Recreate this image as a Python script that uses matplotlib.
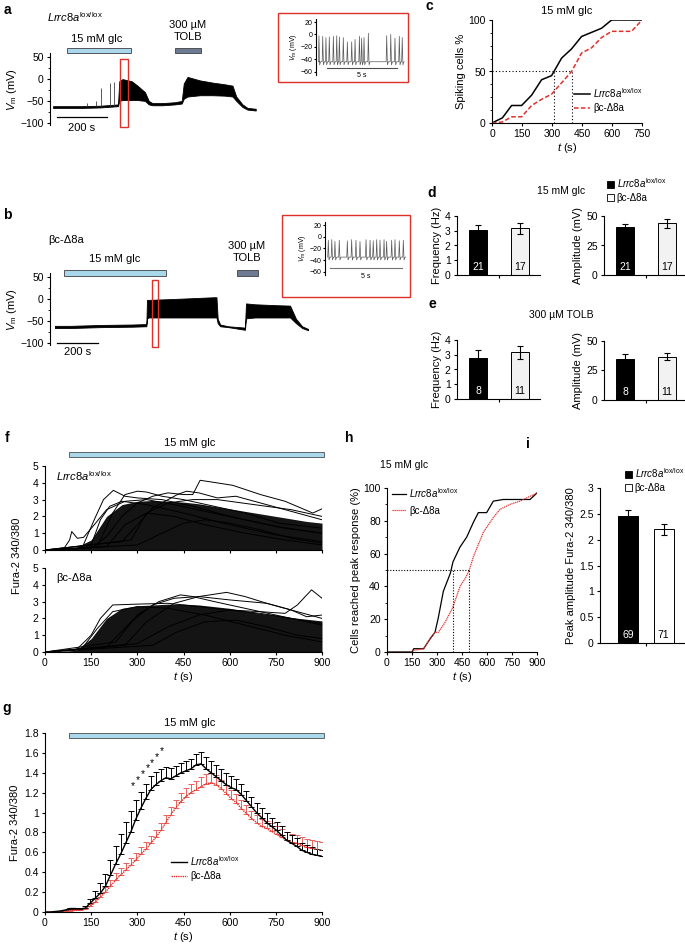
import numpy as np
import matplotlib
matplotlib.use("Agg")
import matplotlib.pyplot as plt
from matplotlib.patches import Rectangle, Patch
from matplotlib.lines import Line2D
from matplotlib.ticker import MultipleLocator, FuncFormatter

plt.rcParams['font.family'] = ['Liberation Sans', 'DejaVu Sans']
plt.rcParams['mathtext.fontset'] = 'custom'
plt.rcParams['mathtext.rm'] = 'Liberation Sans'
plt.rcParams['mathtext.it'] = 'Liberation Sans:italic'
plt.rcParams['axes.linewidth'] = 0.8
plt.rcParams['xtick.major.width'] = 0.8
plt.rcParams['ytick.major.width'] = 0.8
plt.rcParams['xtick.minor.width'] = 0.6
plt.rcParams['ytick.minor.width'] = 0.6
plt.rcParams['xtick.major.size'] = 2.5
plt.rcParams['ytick.major.size'] = 2.5
plt.rcParams['xtick.minor.size'] = 1.5
plt.rcParams['ytick.minor.size'] = 1.5
plt.rcParams['xtick.labelsize'] = 7.5
plt.rcParams['ytick.labelsize'] = 7.5
plt.rcParams['xtick.major.pad'] = 2
plt.rcParams['ytick.major.pad'] = 2

RED = '#e0302a'
GLC = '#a9d8ec'
TOLB_C = '#6c7a94'
LOX = r'$\mathit{Lrrc8a}^{\mathrm{lox/lox}}$'
KO = 'βc-Δ8a'

# === a: membrane potential, Lrrc8a lox/lox (envelope of the trace, s / mV)
a_t = [12, 100, 130, 200, 250, 272, 277, 290, 327, 350, 380, 395, 410, 450, 500,
       527, 535, 550, 600, 650, 700, 730, 745, 770, 790, 823]
a_low = [-66, -66, -66, -65, -63, -62, -50, -48, -48, -48, -50, -58, -60, -60, -58,
         -56, -45, -40, -37, -37, -38, -40, -50, -64, -70, -72]
a_high = [-62, -62, -62, -61, -59, -58, -5, 0, -5, -15, -30, -50, -55, -55, -53,
          -50, -10, 5, -3, -8, -12, -15, -40, -58, -66, -68]
a_spk_t = [150, 185, 205, 240, 258]
a_spk_v = [-55, -50, -21, -10, -6]

# === b: membrane potential, βc-Δ8a
b_t = [24, 100, 244, 400, 470, 473, 480, 600, 700, 800, 812, 818, 830, 870, 951,
       956, 1000, 1100, 1171, 1200, 1230, 1259]
b_low = [-66, -66, -64, -63, -62, -45, -42, -42, -42, -42, -42, -55, -62, -64, -70,
         -44, -42, -42, -42, -55, -66, -71]
b_high = [-61, -61, -59, -58, -57, -2, -2, 0, 2, 4, 4, -45, -58, -62, -65,
          -10, -12, -14, -15, -45, -62, -68]

# === insets: spike times (s) and peaks (mV)
ia_spk_t = [0.21, 0.48, 0.71, 0.95, 1.24, 1.48, 1.67, 1.95, 2.24, 2.55, 2.79, 3.1,
            3.26, 3.43, 3.74, 5.05, 5.34, 5.64, 5.95, 6.16]
ia_spk_v = [-2, -3, -5, -4, -3, -2, -4, -5, -12, -12, -8, -3, -6, -5, 2, -2, 0, -6, -3, -5]
ia_base = -44
ib_spk_t = [0.23, 0.47, 0.69, 0.99, 1.55, 1.85, 2.15, 2.43, 2.85, 3.13, 3.35, 3.59,
            3.82, 4.10, 4.28, 4.63, 4.86, 5.16, 5.44]
ib_spk_v = [-6, -5, -8, -6, -7, -5, -6, -8, -5, -6, -7, -5, -6, -5, -8, -6, -5, -7, -6]
ib_base = -35

# === c: cumulative spiking cells
c_t = [0, 52, 98, 148, 198, 248, 298, 348, 398, 448, 498, 548, 598, 698, 750]
c_wt = [0, 5, 17, 17, 27, 42, 46, 63, 72, 84, 88, 92, 100, 100, 100]
c_ko = [0, 1, 6, 6, 17, 23, 28, 39, 50, 68, 73, 83, 89, 89, 100]

# === d / e: bar charts
d_freq = [3.05, 3.17]
d_freq_err = [0.33, 0.38]
d_amp = [41, 43.8]
d_amp_err = [2.3, 3.7]
d_n = ['21', '17']
e_freq = [2.76, 3.17]
e_freq_err = [0.56, 0.45]
e_amp = [35, 36.5]
e_amp_err = [4.3, 3.0]
e_n = ['8', '11']

# === f: Fura-2 traces (dense envelope + distinct traces)
f_env_top = [0.02, 0.05, 0.15, 0.6, 2.0, 2.7, 2.9, 2.95, 2.9, 2.85, 2.75, 2.6, 2.45,
             2.3, 2.15, 2.0, 1.85, 1.7, 1.6]
f_env_bot = [0.02, 0.03, 0.1, 0.8, 2.0, 2.6, 2.75, 2.8, 2.85, 2.85, 2.8, 2.7, 2.6,
             2.45, 2.3, 2.2, 2.05, 1.95, 1.85]
f_traces_top = [
    ([0, 60, 80, 87, 105, 125, 160, 200, 260, 330, 420, 520, 650, 780, 900],
     [0, 0.05, 0.6, 1.1, 0.7, 0.75, 1.5, 2.4, 2.9, 3.0, 2.7, 2.3, 1.8, 1.3, 1.0]),
    ([0, 120, 160, 190, 222, 260, 300, 380, 480, 600, 750, 900],
     [0, 0.1, 1.8, 3.0, 3.55, 3.2, 3.1, 3.0, 2.6, 2.0, 1.4, 1.0]),
    ([0, 150, 200, 250, 300, 350, 400, 450, 480, 504, 540, 610, 700, 780, 870, 900],
     [0, 0.1, 0.8, 2.0, 2.8, 3.2, 3.4, 3.3, 3.3, 4.15, 4.05, 3.85, 3.3, 2.9, 2.2, 2.45]),
    ([0, 170, 220, 260, 300, 330, 380, 450, 550, 650, 760, 900],
     [0, 0.2, 2.2, 3.3, 3.5, 3.45, 3.2, 3.0, 2.6, 2.2, 1.6, 1.3]),
    ([0, 250, 300, 350, 400, 430, 460, 500, 560, 620, 700, 800, 900],
     [0, 0.5, 1.5, 2.5, 3.0, 3.3, 3.5, 3.4, 3.1, 3.2, 2.8, 2.3, 1.8]),
    ([0, 280, 330, 400, 480, 560, 640, 720, 800, 900],
     [0, 0.6, 2.2, 2.8, 3.0, 3.0, 2.8, 2.6, 2.4, 2.0]),
    ([0, 200, 260, 330, 420, 520, 650, 780, 900],
     [0, 0.2, 1.5, 2.2, 2.0, 1.5, 1.0, 0.6, 0.3]),
    ([0, 150, 180, 210, 250, 330, 450, 600, 750, 900],
     [0, 0.3, 1.8, 2.6, 2.9, 2.7, 2.2, 1.5, 0.9, 0.5]),
    ([0, 300, 380, 450, 520, 600, 700, 800, 900],
     [0, 0.3, 1.0, 1.6, 1.8, 1.6, 1.2, 0.7, 0.4]),
]
f_traces_bot = [
    ([0, 100, 150, 180, 220, 300, 400, 500, 600, 700, 800, 900],
     [0, 0.1, 1.0, 2.0, 2.8, 2.85, 2.9, 2.7, 2.5, 2.3, 2.0, 1.7]),
    ([0, 300, 400, 500, 600, 700, 780, 820, 866, 900],
     [0, 0.5, 1.5, 2.2, 2.5, 2.4, 2.3, 2.8, 3.7, 3.2]),
    ([0, 200, 280, 350, 420, 500, 590, 650, 720, 800, 900],
     [0, 0.3, 1.8, 2.8, 3.2, 3.3, 3.55, 3.3, 2.9, 2.5, 2.0]),
    ([0, 230, 300, 370, 440, 480, 550, 650, 750, 900],
     [0, 0.6, 2.2, 3.0, 3.4, 3.3, 3.0, 2.6, 2.2, 1.6]),
    ([0, 260, 330, 420, 500, 600, 720, 800, 850, 900],
     [0, 0.4, 1.8, 2.9, 3.3, 3.1, 2.9, 2.5, 2.1, 2.2]),
    ([0, 120, 170, 220, 300, 400, 520, 650, 780, 900],
     [0, 0.2, 1.4, 2.4, 2.7, 2.6, 2.2, 1.6, 1.0, 0.6]),
    ([0, 350, 430, 520, 620, 720, 820, 900],
     [0, 0.4, 1.2, 1.8, 1.9, 1.5, 1.0, 0.8]),
]

# === g: mean Fura-2 ratio (56 samples over 0-900 s)
g_wt = [0, 0, 0.005, 0.01, 0.02, 0.035, 0.035, 0.03, 0.04, 0.09, 0.14, 0.19, 0.26,
        0.37, 0.48, 0.58, 0.69, 0.8, 0.93, 1.04, 1.14, 1.23, 1.28, 1.32, 1.35, 1.34,
        1.37, 1.4, 1.42, 1.44, 1.48, 1.49, 1.44, 1.4, 1.36, 1.32, 1.28, 1.25, 1.23,
        1.18, 1.12, 1.06, 1.0, 0.95, 0.9, 0.86, 0.82, 0.77, 0.72, 0.69, 0.66, 0.62,
        0.6, 0.58, 0.57, 0.56]
g_wt_err = [0, 0, 0, 0, 0, 0.01, 0.01, 0.01, 0.02, 0.04, 0.07, 0.1, 0.12, 0.15, 0.18,
            0.2, 0.22, 0.22, 0.2, 0.17, 0.15, 0.14, 0.13, 0.12, 0.11, 0.11, 0.1, 0.1,
            0.1, 0.1, 0.11, 0.12, 0.12, 0.12, 0.12, 0.12, 0.12, 0.12, 0.11, 0.11, 0.1,
            0.1, 0.1, 0.1, 0.1, 0.09, 0.09, 0.09, 0.08, 0.08, 0.08, 0.07, 0.07, 0.07,
            0.06, 0.06]
g_ko = [0, 0, 0, 0.005, 0.01, 0.015, 0.02, 0.02, 0.03, 0.06, 0.1, 0.15, 0.2, 0.26,
        0.32, 0.37, 0.42, 0.47, 0.52, 0.58, 0.63, 0.69, 0.75, 0.82, 0.9, 0.98, 1.05,
        1.11, 1.16, 1.2, 1.23, 1.26, 1.29, 1.3, 1.28, 1.24, 1.19, 1.14, 1.1, 1.04,
        0.99, 0.94, 0.9, 0.86, 0.84, 0.81, 0.78, 0.75, 0.72, 0.7, 0.69, 0.67, 0.65,
        0.64, 0.63, 0.62]
g_ko_err = [0, 0, 0, 0, 0, 0.01, 0.01, 0.01, 0.01, 0.02, 0.03, 0.04, 0.05, 0.06,
            0.07, 0.07, 0.07, 0.07, 0.07, 0.07, 0.07, 0.07, 0.07, 0.08, 0.08, 0.08,
            0.08, 0.09, 0.09, 0.09, 0.09, 0.1, 0.1, 0.1, 0.1, 0.09, 0.09, 0.09, 0.09,
            0.09, 0.09, 0.08, 0.08, 0.08, 0.08, 0.08, 0.08, 0.08, 0.08, 0.08, 0.08,
            0.08, 0.08, 0.08, 0.08, 0.08]
g_star_t = [287, 302, 317, 333, 348, 364, 379]
g_star_y = [1.27, 1.33, 1.39, 1.45, 1.5, 1.56, 1.62]

# === h: cells reached peak response
h_wt_t = [0, 150, 160, 220, 258, 288, 308, 338, 380, 396, 438, 478, 518, 548, 598, 638, 698, 858, 900]
h_wt = [0, 0, 2, 2, 8, 12, 21, 37, 48, 55, 64, 70, 79, 85, 85, 92, 93, 93, 97]
h_ko_t = [0, 150, 160, 220, 258, 288, 308, 348, 394, 438, 470, 494, 518, 578, 638, 678, 738, 798, 900]
h_ko = [0, 0, 1, 2, 8, 12, 12, 18, 27, 40, 45, 50, 58, 73, 82, 87, 90, 92, 97]

# === i: peak amplitude
i_vals = [2.45, 2.2]
i_err = [0.12, 0.11]
i_n = ['69', '71']

W, H = 685, 946
fig = plt.figure(figsize=(W / 100, H / 100), dpi=100)


def add_ax(x0, y0, x1, y1):
    return fig.add_axes([x0 / W, 1 - y1 / H, (x1 - x0) / W, (y1 - y0) / H])


def ftext(x, y, s, **kw):
    kw.setdefault('ha', 'center')
    kw.setdefault('va', 'center')
    kw.setdefault('fontsize', 7.5)
    fig.text(x / W, 1 - y / H, s, **kw)


def fbox(x0, y0, x1, y1, color):
    fig.patches.append(Rectangle((x0 / W, 1 - y1 / H), (x1 - x0) / W, (y1 - y0) / H,
                                 transform=fig.transFigure, fill=False, ec=color, lw=1.0))


def clean(ax, bottom=True):
    ax.spines['top'].set_visible(False)
    ax.spines['right'].set_visible(False)
    if not bottom:
        ax.spines['bottom'].set_visible(False)
        ax.set_xticks([])


def gfmt(ax):
    ax.yaxis.set_major_formatter(FuncFormatter(lambda v, p: f'{v:g}'.replace('-', '\u2212')))


def spike_line(times, peaks, base, t0, t1):
    xs, ys = [t0], [base]
    for t, p in zip(times, peaks):
        xs += [t - 0.04, t, t + 0.05, t + 0.12]
        ys += [base, p, base - 5, base]
    xs.append(t1)
    ys.append(base)
    return xs, ys


# ---------------- panel labels
for lab, x, y in [('a', 7, 10), ('b', 7, 215), ('c', 429, 6), ('d', 432, 193), ('e', 432, 304),
                  ('f', 7, 438), ('g', 7, 708), ('h', 349, 438), ('i', 528, 444)]:
    ftext(x, y, lab, fontsize=10, fontweight='bold')

# ---------------- a
axA = add_ax(50, 52.9, 262, 127.1)
axA.set_xlim(0, 848)
axA.set_ylim(-110, 60)
clean(axA, bottom=False)
axA.spines['left'].set_bounds(-105, 60)
axA.fill_between(a_t, a_low, a_high, color='k', lw=0.6)
axA.vlines(a_spk_t, -62, a_spk_v, color='0.25', lw=0.6)
axA.set_yticks([-100, -50, 0, 50])
axA.yaxis.set_minor_locator(MultipleLocator(25))
gfmt(axA)
axA.add_patch(Rectangle((68, 60.5), 256, 10.5, fc=GLC, ec='0.25', lw=0.6, clip_on=False))
axA.add_patch(Rectangle((500, 60.5), 104, 10.5, fc=TOLB_C, ec='0.25', lw=0.6, clip_on=False))
axA.add_patch(Rectangle((280, -109), 32, 154, fill=False, ec=RED, lw=1.0, clip_on=False))
axA.plot([28, 228], [-87, -87], color='k', lw=0.9, clip_on=False)
axA.text(128, -111, '200 s', ha='center', va='center', fontsize=8)
axA.set_ylabel(r'$V_{\mathrm{m}}$ (mV)', fontsize=8, labelpad=1)
ftext(47, 17, LOX, ha='left', fontsize=8)
ftext(97, 39, '15 mM glc', fontsize=8)
ftext(188, 25, '300 µM', fontsize=8)
ftext(188, 37, 'TOLB', fontsize=8)

# inset a
fbox(278, 13, 408, 82, RED)
axIa = add_ax(316, 18.9, 405, 74.8)
axIa.set_xlim(0, 89 / 14)
axIa.set_ylim(-65, 25)
clean(axIa, bottom=False)
xs, ys = spike_line(ia_spk_t, ia_spk_v, ia_base, 0.25, 6.3)
axIa.plot(xs, ys, color='0.35', lw=0.5)
axIa.set_yticks([-60, -40, -20, 0, 20])
gfmt(axIa)
axIa.tick_params(labelsize=5, length=1.5, pad=1)
axIa.plot([0.79, 5.79], [-54, -54], color='0.3', lw=0.8)
axIa.text(3.29, -66, '5 s', ha='center', va='center', fontsize=5)
axIa.set_ylabel(r'$V_{\mathrm{m}}$ (mV)', fontsize=5, labelpad=1)

# ---------------- b
axB = add_ax(50, 272.6, 312, 347.4)
axB.set_xlim(0, 262 / 0.205)
axB.set_ylim(-110, 60)
clean(axB, bottom=False)
axB.spines['left'].set_bounds(-105, 60)
axB.fill_between(b_t, b_low, b_high, color='k', lw=0.6)
axB.set_yticks([-100, -50, 0, 50])
axB.yaxis.set_minor_locator(MultipleLocator(25))
gfmt(axB)
axB.add_patch(Rectangle((68, 52.5), 498, 12.5, fc=GLC, ec='0.25', lw=0.6, clip_on=False))
axB.add_patch(Rectangle((912, 52.5), 103, 12.5, fc=TOLB_C, ec='0.25', lw=0.6, clip_on=False))
axB.add_patch(Rectangle((498, -109), 29, 152, fill=False, ec=RED, lw=1.0, clip_on=False))
axB.plot([34, 234], [-100, -100], color='k', lw=0.9, clip_on=False)
axB.text(134, -121, '200 s', ha='center', va='center', fontsize=8)
axB.set_ylabel(r'$V_{\mathrm{m}}$ (mV)', fontsize=8, labelpad=1)
ftext(48, 240, KO, ha='left', fontsize=8)
ftext(115, 259, '15 mM glc', fontsize=8)
ftext(247, 246, '300 µM', fontsize=8)
ftext(247, 258, 'TOLB', fontsize=8)

# inset b
fbox(282, 215, 410, 297, RED)
axIb = add_ax(325, 222.1, 407, 274.6)
axIb.set_xlim(0, 82 / 14.4)
axIb.set_ylim(-65, 25)
clean(axIb, bottom=False)
xs, ys = spike_line(ib_spk_t, ib_spk_v, ib_base, 0.2, 5.6)
axIb.plot(xs, ys, color='0.35', lw=0.5)
axIb.set_yticks([-60, -40, -20, 0, 20])
gfmt(axIb)
axIb.tick_params(labelsize=5, length=1.5, pad=1)
axIb.plot([0.35, 5.35], [-53.7, -53.7], color='0.45', lw=0.8)
axIb.text(2.85, -69, '5 s', ha='center', va='center', fontsize=5)
axIb.set_ylabel(r'$V_{\mathrm{m}}$ (mV)', fontsize=5, labelpad=1)

# ---------------- c
axC = add_ax(492, 20, 642, 123)
axC.set_xlim(0, 750)
axC.set_ylim(0, 100)
clean(axC)
axC.plot(c_t, c_wt, color='k', lw=1.1)
axC.plot(c_t, c_ko, color=RED, lw=1.1, dashes=(3, 1.5))
axC.plot([0, 400], [50, 50], color='k', lw=0.8, ls=(0, (1, 2)))
axC.plot([310, 310], [0, 50], color='k', lw=0.8, ls=(0, (1, 2)))
axC.plot([400, 400], [0, 50], color='k', lw=0.8, ls=(0, (1, 2)))
axC.set_xticks(np.arange(0, 751, 150))
axC.set_yticks([0, 50, 100])
axC.yaxis.set_minor_locator(MultipleLocator(12.5))
axC.set_ylabel('Spiking cells %', fontsize=8, labelpad=2)
axC.set_xlabel(r'$t$ (s)', fontsize=8, labelpad=1)
axC.set_title('15 mM glc', fontsize=8, pad=4)
axC.legend([Line2D([], [], color='k', lw=1.1), Line2D([], [], color=RED, lw=1.1, dashes=(3, 1.5))],
           [LOX, KO], loc='upper left', bbox_to_anchor=(574 / W, 1 - 86 / H),
           bbox_transform=fig.transFigure, frameon=False, fontsize=7, handlelength=1.6,
           handletextpad=0.4, labelspacing=0.35, borderpad=0, borderaxespad=0)


# ---------------- d / e
def bar_panel(box, vals, errs, ns, ymax, yticks, ylabel):
    ax = add_ax(*box)
    width = box[2] - box[0]
    ax.set_xlim(-0.5, -0.5 + width / 42)
    ax.set_ylim(0, ymax)
    clean(ax)
    ax.bar([0, 1], vals, width=0.43, color=['k', '#f2f2f2'], edgecolor='k', lw=0.7)
    ax.errorbar([0, 1], vals, yerr=errs, fmt='none', ecolor='k', elinewidth=0.8, capsize=2.5, capthick=0.8)
    ax.set_xticks([0.5])
    ax.set_xticklabels([])
    ax.set_yticks(yticks)
    gfmt(ax)
    for k, (n, col) in enumerate(zip(ns, ['w', 'k'])):
        ax.text(k, ymax * 0.14, n, ha='center', va='center', color=col, fontsize=7.5)
    ax.set_ylabel(ylabel, fontsize=8, labelpad=2)
    return ax


bar_panel((457, 216, 540, 275), d_freq, d_freq_err, d_n, 4, [0, 1, 2, 3, 4], 'Frequency (Hz)')
axDa = bar_panel((604, 216, 684, 275), d_amp, d_amp_err, d_n, 50, [0, 25, 50], 'Amplitude (mV)')
ftext(561, 191, '15 mM glc', fontsize=7.5)
axDa.legend([Patch(fc='k', ec='k', lw=0.6), Patch(fc='w', ec='k', lw=0.6)], [LOX, KO],
            loc='upper left', bbox_to_anchor=(607 / W, 1 - 176 / H), bbox_transform=fig.transFigure,
            frameon=False, fontsize=7, handlelength=0.7, handleheight=0.7, handletextpad=0.3,
            labelspacing=0.3, borderpad=0, borderaxespad=0)

bar_panel((457, 340, 540, 399), e_freq, e_freq_err, e_n, 4, [0, 1, 2, 3, 4], 'Frequency (Hz)')
bar_panel((604, 341, 684, 400), e_amp, e_amp_err, e_n, 50, [0, 25, 50], 'Amplitude (mV)')
ftext(561, 315, '300 µM TOLB', fontsize=7.5)

# ---------------- f
f_grid = np.linspace(0, 900, len(f_env_top))
ftext(190, 443, '15 mM glc', fontsize=8)
for k, (box, env, traces, lab) in enumerate([((45, 466, 322, 550), f_env_top, f_traces_top, LOX),
                                              ((45, 568, 322, 652), f_env_bot, f_traces_bot, KO)]):
    ax = add_ax(*box)
    ax.set_xlim(0, 900)
    ax.set_ylim(0, 5)
    clean(ax)
    ax.fill_between(f_grid, 0, env, color='k', alpha=0.92, lw=0)
    for tt, vv in traces:
        ax.plot(tt, vv, color='k', lw=0.7)
    ax.set_xticks(np.arange(0, 901, 150))
    ax.set_yticks(range(6))
    ax.text(35, 4.4, lab, fontsize=8, va='center')
    if k == 0:
        ax.set_xticklabels([])
        ax.add_patch(Rectangle((78, 5.53), 828, 0.28, fc=GLC, ec='0.3', lw=0.6, clip_on=False))
    else:
        ax.set_xlabel(r'$t$ (s)', fontsize=8, labelpad=1)
ftext(17, 556, 'Fura-2 340/380', fontsize=8, rotation=90)

# ---------------- g
axG = add_ax(45, 733, 322, 912)
axG.set_xlim(0, 900)
axG.set_ylim(0, 1.8)
clean(axG)
g_t = np.linspace(0, 900, len(g_wt))
zeros = [0] * len(g_wt)
axG.errorbar(g_t, g_ko, yerr=[zeros, g_ko_err], fmt='none', ecolor='#e8625c', elinewidth=0.7, capsize=2, capthick=0.7)
axG.errorbar(g_t, g_wt, yerr=[zeros, g_wt_err], fmt='none', ecolor='k', elinewidth=0.7, capsize=2, capthick=0.7)
axG.plot(g_t, g_ko, color=RED, lw=1.0, ls=(0, (1, 0.6)))
axG.plot(g_t, g_wt, color='k', lw=1.0)
for st, sy in zip(g_star_t, g_star_y):
    axG.text(st, sy, '*', ha='center', va='center', fontsize=7.5)
axG.add_patch(Rectangle((78, 1.747), 828, 0.056, fc=GLC, ec='0.3', lw=0.6, clip_on=False))
axG.set_xticks(np.arange(0, 901, 150))
axG.set_yticks(np.arange(0, 1.81, 0.2))
gfmt(axG)
axG.set_xlabel(r'$t$ (s)', fontsize=8, labelpad=1)
axG.set_ylabel('Fura-2 340/380', fontsize=8, labelpad=3)
ftext(190, 723, '15 mM glc', fontsize=8)
axG.legend([Line2D([], [], color='k', lw=1.0), Line2D([], [], color=RED, lw=1.0, ls=(0, (1, 0.6)))],
           [LOX, KO], loc='upper left', bbox_to_anchor=(171 / W, 1 - 854 / H),
           bbox_transform=fig.transFigure, frameon=False, fontsize=7, handlelength=1.6,
           handletextpad=0.4, labelspacing=0.35, borderpad=0, borderaxespad=0)

# ---------------- h
axH = add_ax(387, 488, 537, 652)
axH.set_xlim(0, 900)
axH.set_ylim(0, 100)
clean(axH)
axH.plot(h_wt_t, h_wt, color='k', lw=0.9)
axH.plot(h_ko_t, h_ko, color=RED, lw=0.9, ls=(0, (1, 0.6)))
axH.plot([0, 494], [50, 50], color='k', lw=0.8, ls=(0, (1, 1.5)))
axH.plot([396, 396], [0, 50], color='k', lw=0.8, ls=(0, (1, 1.5)))
axH.plot([494, 494], [0, 50], color='k', lw=0.8, ls=(0, (1, 1.5)))
axH.set_xticks(np.arange(0, 901, 150))
axH.set_yticks(np.arange(0, 101, 20))
axH.yaxis.set_minor_locator(MultipleLocator(10))
axH.set_xlabel(r'$t$ (s)', fontsize=8, labelpad=1)
axH.set_ylabel('Cells reached peak response (%)', fontsize=8, labelpad=2)
ftext(380, 465, '15 mM glc', ha='left', fontsize=7.5)
axH.legend([Line2D([], [], color='k', lw=0.9), Line2D([], [], color=RED, lw=0.9, ls=(0, (1, 0.6)))],
           [LOX, KO], loc='upper left', bbox_to_anchor=(392 / W, 1 - 486 / H),
           bbox_transform=fig.transFigure, frameon=False, fontsize=7, handlelength=1.4,
           handletextpad=0.4, labelspacing=0.6, borderpad=0, borderaxespad=0)

# ---------------- i
axI = add_ax(600, 488, 685, 643)
axI.set_xlim(-0.79, 1.6)
axI.set_ylim(0, 3)
clean(axI)
axI.bar([0, 1], i_vals, width=0.57, color=['k', 'w'], edgecolor='k', lw=0.7)
axI.errorbar([0, 1], i_vals, yerr=i_err, fmt='none', ecolor='k', elinewidth=0.8, capsize=2.5, capthick=0.8)
axI.set_xticks([0.5])
axI.set_xticklabels([])
axI.set_yticks(np.arange(0, 3.01, 0.5))
gfmt(axI)
for k, (n, col) in enumerate(zip(i_n, ['w', 'k'])):
    axI.text(k, 0.16, n, ha='center', va='center', color=col, fontsize=7.5)
axI.set_ylabel('Peak amplitude Fura-2 340/380', fontsize=8, labelpad=2)
axI.legend([Patch(fc='k', ec='k', lw=0.6), Patch(fc='w', ec='k', lw=0.6)], [LOX, KO],
           loc='upper left', bbox_to_anchor=(625 / W, 1 - 466 / H), bbox_transform=fig.transFigure,
           frameon=False, fontsize=7, handlelength=0.7, handleheight=0.7, handletextpad=0.3,
           labelspacing=0.3, borderpad=0, borderaxespad=0)

fig.savefig('out.png', dpi=100)
